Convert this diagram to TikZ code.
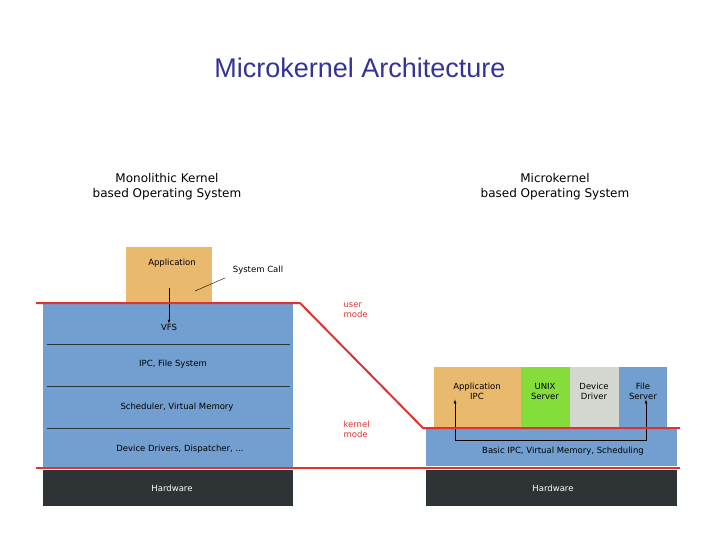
\documentclass[tikz,border=0pt]{standalone}
\usepackage{fontspec}
\setmainfont{DejaVu Sans}
\newfontfamily\titlefont{Liberation Sans}
\usepackage{tikz}

\definecolor{kblue}{HTML}{729FCF}
\definecolor{korange}{HTML}{E9B96E}
\definecolor{kgreen}{HTML}{84DD3A}
\definecolor{kgrey}{HTML}{D3D7CF}
\definecolor{kdark}{HTML}{2E3436}
\definecolor{kred}{HTML}{DD3333}
\definecolor{ktitle}{HTML}{333399}

\tikzset{
    layer/.style={inner sep=0pt, font=\fontsize{8.5}{10}\selectfont},
    modetext/.style={anchor=west, align=left, text=kred, font=\fontsize{8.5}{10}\selectfont},
    modeline/.style={kred, line width=2pt}
}

\begin{document}
\begin{tikzpicture}[x=1pt, y=-1pt]

\useasboundingbox (0,0) rectangle (720,540);

\node[font=\titlefont\fontsize{27}{32}\selectfont, text=ktitle] (title) at (360,68) {Microkernel Architecture};

\node[align=center, font=\fontsize{12}{15}\selectfont] (monotitle) at (167,187) {Monolithic Kernel\\based Operating System};
\node[align=center, font=\fontsize{12}{15}\selectfont] (microtitle) at (555,187) {Microkernel\\based Operating System};

% monolithic side
\fill[korange] (126,247) rectangle (212,303);
\node[layer] (app) at (172,263) {Application};
\fill[kblue] (43,303) rectangle (293,467);
\draw[kdark, thin] (47,344) -- (290,344);
\draw[kdark, thin] (47,386) -- (290,386);
\draw[kdark, thin] (47,428) -- (290,428);
\node[layer] (vfs) at (169,327) {VFS};
\node[layer] (ipcfs) at (173,364) {IPC, File System};
\node[layer] (sched) at (177,407) {Scheduler, Virtual Memory};
\node[layer] (drivers) at (180,449) {Device Drivers, Dispatcher, ...};
\fill[kdark] (43,470) rectangle (293,506);
\node[layer, text=white] (hwleft) at (172,488) {Hardware};

\node[layer] (syscall) at (258,270) {System Call};
\draw[thin] (195,291) -- (225,278);
\draw[-latex] (169,288) -- (vfs.north);

% microkernel side
\fill[korange] (434,367) rectangle (521,428);
\fill[kgreen] (521,367) rectangle (570,428);
\fill[kgrey] (570,367) rectangle (619,428);
\fill[kblue] (619,367) rectangle (667,428);
\node[layer, align=center] (appipc) at (477,391) {Application\\IPC};
\node[layer, align=center] (unix) at (545,391) {UNIX\\Server};
\node[layer, align=center] (devdrv) at (594,391) {Device\\Driver};
\node[layer, align=center] (filesrv) at (643,391) {File\\Server};
\fill[kblue] (426,428) rectangle (677,466);
\node[layer] (basic) at (563,451) {Basic IPC, Virtual Memory, Scheduling};
\fill[kdark] (426,470) rectangle (677,506);
\node[layer, text=white] (hwright) at (553,488) {Hardware};
\draw[-latex] (455,440) -- (appipc.south -| 455,0);
\draw[-latex] (455,440) -- (646,440) -- (filesrv.south -| 646,0);

% mode boundary
\draw[modeline] (36,303) -- (300,303) -- (423,428) -- (680,428);
\draw[modeline] (36,468) -- (680,468);
\node[modetext] (user) at (340,310) {user\\mode};
\node[modetext] (kernel) at (340,429) {kernel\\mode};

\end{tikzpicture}
\end{document}
